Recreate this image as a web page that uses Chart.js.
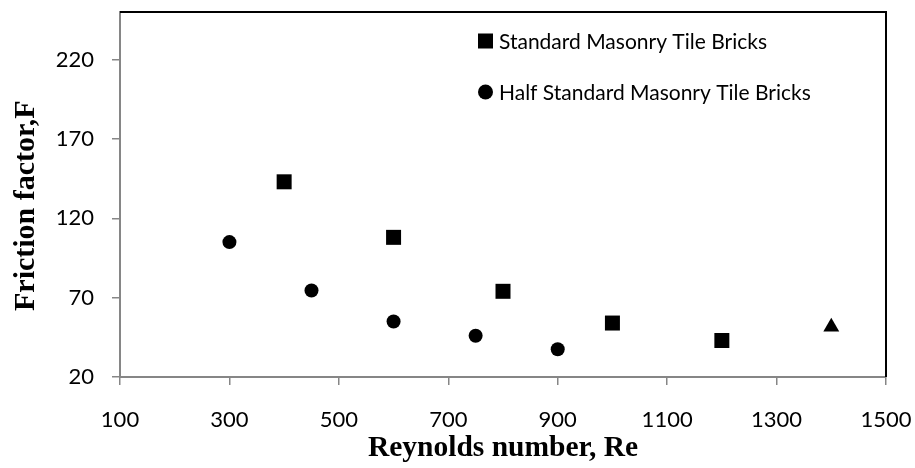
<!DOCTYPE html>
<html>
<head>
<meta charset="utf-8">
<script src="https://cdn.jsdelivr.net/npm/chart.js@4.4.1/dist/chart.umd.min.js"></script>
<style>
  html, body { margin: 0; padding: 0; background: #fff; }
  #wrap { width: 915px; height: 468px; }
</style>
</head>
<body>
<div id="wrap"><canvas id="chart"></canvas></div>
<script>
// Standard masonry tile bricks
const standardRe = [400, 600, 800, 1000, 1200];
const standardF = [143, 108, 74, 54, 43];
// Half standard masonry tile bricks
const halfRe = [300, 450, 600, 750, 900];
const halfF = [105, 74.5, 55, 46, 37.5];
// single triangle point (no legend entry)
const extraRe = [1400];
const extraF = [51.5];

const xTickValues = [100, 300, 500, 700, 900, 1100, 1300, 1500];
const yTickValues = [20, 70, 120, 170, 220];

const legendLabels = ['Standard Masonry Tile Bricks', 'Half Standard Masonry Tile Bricks'];

function toPoints(xs, ys) {
  return xs.map((x, i) => ({ x: x, y: ys[i] }));
}

// frame on top and right edge of plot
const framePlugin = {
  id: 'frame',
  afterDraw(chart) {
    const { ctx, chartArea: a } = chart;
    ctx.save();
    ctx.strokeStyle = '#000';
    ctx.lineWidth = 2;
    ctx.beginPath();
    ctx.moveTo(a.left, a.top);
    ctx.lineTo(a.right, a.top);
    ctx.lineTo(a.right, a.bottom);
    ctx.stroke();
    ctx.restore();
  }
};

// legend drawn inside the plot, top right
const insideLegend = {
  id: 'insideLegend',
  afterDraw(chart) {
    const { ctx } = chart;
    ctx.save();
    ctx.font = '21px Lato';
    ctx.fillStyle = '#000';
    ctx.textBaseline = 'middle';
    legendLabels.forEach((label, i) => {
      const y = 41 + i * 51;
      const mx = 485.5;
      if (i === 0) {
        ctx.fillRect(mx - 7.5, y - 7.5, 15, 15);
      } else {
        ctx.beginPath();
        ctx.arc(mx, y, 7.5, 0, Math.PI * 2);
        ctx.fill();
      }
      ctx.fillText(label, 499, y + 1);
    });
    ctx.restore();
  }
};

// keep the plot box fixed: no extra room for edge labels
function noEdgePadding(axis) {
  axis.paddingLeft = 0;
  axis.paddingRight = 0;
  axis.paddingTop = 0;
  axis.paddingBottom = 0;
}

new Chart(document.getElementById('chart'), {
  type: 'scatter',
  data: {
    datasets: [
      {
        label: legendLabels[0],
        data: toPoints(standardRe, standardF),
        pointStyle: 'rect',
        pointRadius: 10.6,
        backgroundColor: '#000',
        borderWidth: 0
      },
      {
        label: legendLabels[1],
        data: toPoints(halfRe, halfF),
        pointStyle: 'circle',
        pointRadius: 7,
        backgroundColor: '#000',
        borderWidth: 0
      },
      {
        label: '',
        data: toPoints(extraRe, extraF),
        pointStyle: 'triangle',
        pointRadius: 9.2,
        backgroundColor: '#000',
        borderWidth: 0
      }
    ]
  },
  options: {
    responsive: true,
    maintainAspectRatio: false,
    animation: false,
    events: [],
    layout: { padding: { top: 12, right: 29, left: 0, bottom: 0 } },
    plugins: {
      legend: { display: false },
      tooltip: { enabled: false }
    },
    scales: {
      x: {
        type: 'linear',
        min: 100,
        max: 1500,
        afterBuildTicks: (axis) => { axis.ticks = xTickValues.map(v => ({ value: v })); },
        afterFit: (axis) => { axis.height = 91; noEdgePadding(axis); },
        grid: { drawOnChartArea: false, tickLength: 8, color: '#868686', lineWidth: 1.5 },
        border: { color: '#868686', width: 2 },
        ticks: {
          color: '#000',
          font: { family: 'Lato', size: 22 },
          padding: 22,
          maxRotation: 0,
          callback: (v) => String(v)
        },
        title: {
          display: true,
          text: 'Reynolds number, Re',
          color: '#000',
          font: { family: 'Liberation Serif', size: 29.5, weight: 'bold' },
          padding: { top: 0, bottom: 2 }
        }
      },
      y: {
        type: 'linear',
        min: 20,
        max: 250,
        afterBuildTicks: (axis) => { axis.ticks = yTickValues.map(v => ({ value: v })); },
        afterFit: (axis) => { axis.width = 120; noEdgePadding(axis); },
        grid: { drawOnChartArea: false, tickLength: 8, color: '#868686', lineWidth: 1.5 },
        border: { color: '#868686', width: 2 },
        ticks: {
          color: '#000',
          font: { family: 'Lato', size: 22 },
          padding: 18,
          callback: (v) => String(v)
        },
        title: {
          display: true,
          // trailing spaces nudge the rotated title a little lower, like the original
          text: 'Friction factor,F\u00A0\u00A0\u00A0',
          color: '#000',
          font: { family: 'Liberation Serif', size: 30, weight: 'bold' },
          padding: { top: 8, bottom: 0 }
        }
      }
    }
  },
  plugins: [framePlugin, insideLegend]
});
</script>
</body>
</html>
